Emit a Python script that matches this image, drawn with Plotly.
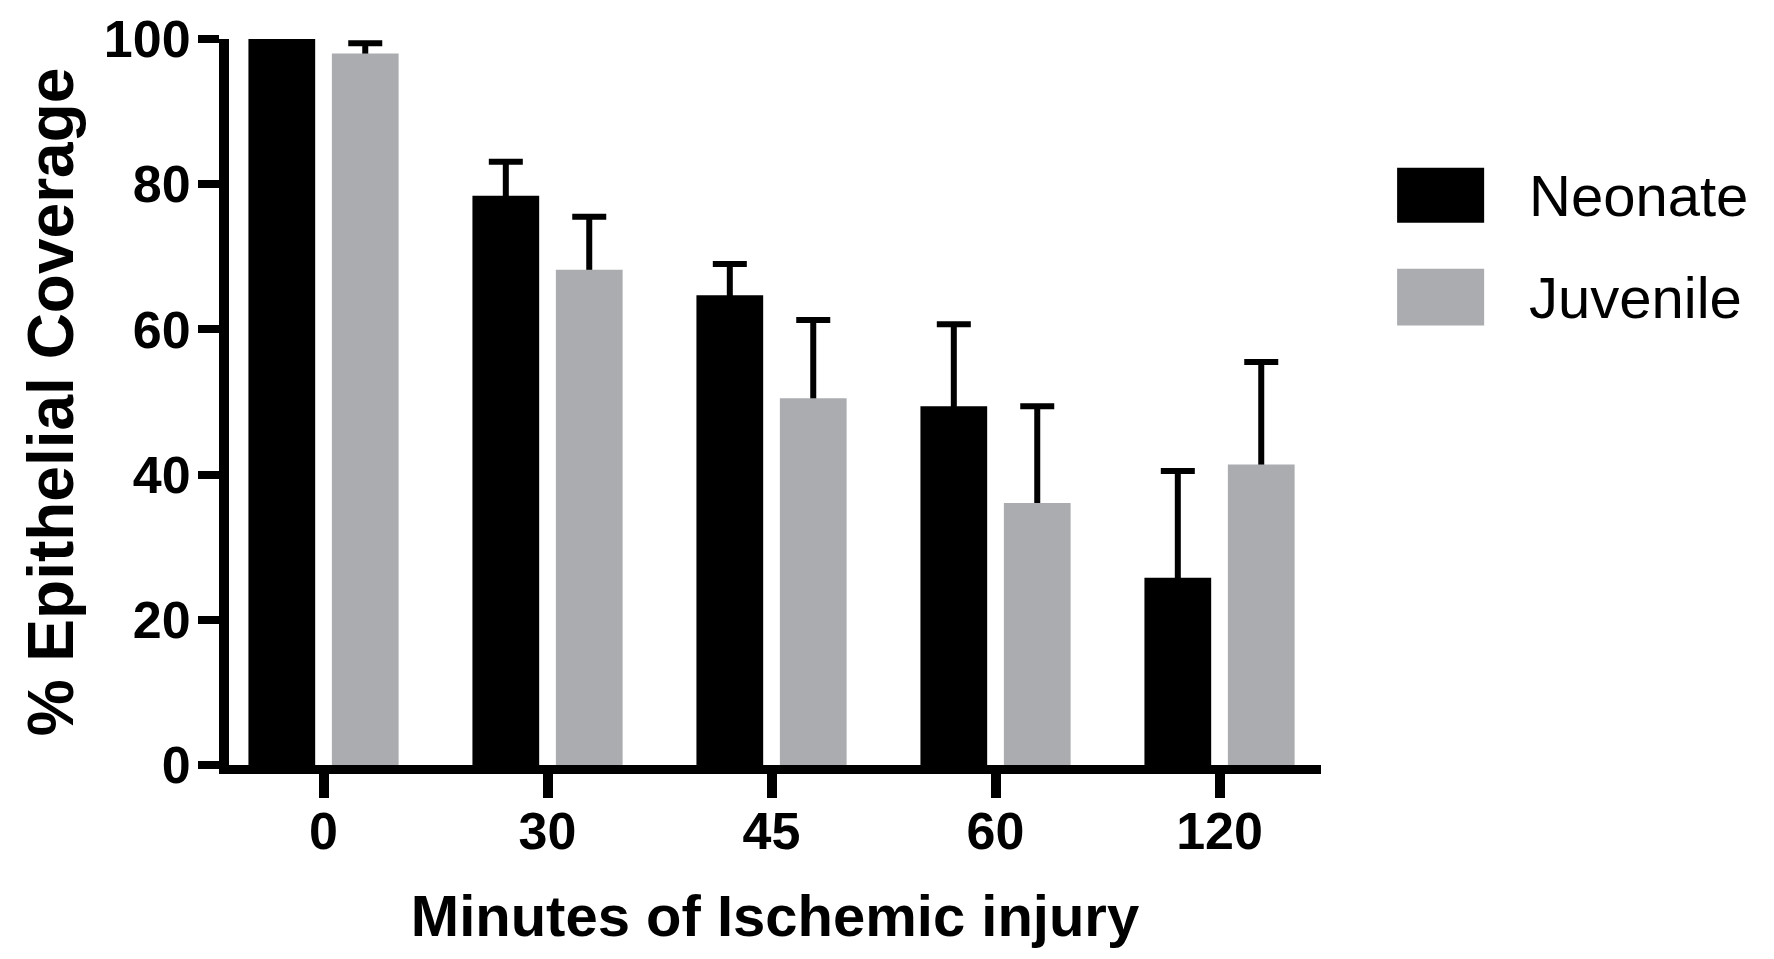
import plotly.graph_objects as go

categories = ["0", "30", "45", "60", "120"]
neonate = [100.0, 78.4, 64.7, 49.4, 25.8]
neonate_err = [0.0, 4.7, 4.3, 11.3, 14.7]
juvenile = [98.0, 68.2, 50.5, 36.1, 41.4]
juvenile_err = [1.4, 7.3, 10.8, 13.3, 14.1]
y_ticks = [0, 20, 40, 60, 80, 100]

BLACK = "#000000"
GRAY = "#abacb0"
FONT = "Liberation Sans, Arial, Helvetica, sans-serif"

fig = go.Figure()

# carrier traces for the one-sided (upper) error bars; the visible bars drawn later cover the stem inside the bar
for name, vals, errs, grp in [("Neonate", neonate, neonate_err, "N"), ("Juvenile", juvenile, juvenile_err, "J")]:
    fig.add_trace(go.Bar(
        x=categories, y=vals, offsetgroup=grp, showlegend=False, hoverinfo="skip",
        marker=dict(color="rgba(0,0,0,0)", line=dict(width=0)),
        error_y=dict(type="data", symmetric=False, array=errs, arrayminus=vals,
                     color=BLACK, thickness=6, width=17),
    ))

fig.add_trace(go.Bar(x=categories, y=neonate, name="Neonate", offsetgroup="N",
                     marker=dict(color=BLACK, line=dict(width=0))))
fig.add_trace(go.Bar(x=categories, y=juvenile, name="Juvenile", offsetgroup="J",
                     marker=dict(color=GRAY, line=dict(width=0))))

fig.update_layout(
    width=1774, height=959,
    margin=dict(l=229, r=453, t=39, b=194, autoexpand=False),
    paper_bgcolor="white", plot_bgcolor="white",
    barmode="group", bargap=0.255, bargroupgap=0.2,
    showlegend=False,
    font=dict(family=FONT, color=BLACK),
    xaxis=dict(
        type="category", range=[-0.422, 4.453], automargin=False,
        showline=True, linecolor=BLACK, linewidth=9,
        ticks="outside", ticklen=24, tickwidth=10, tickcolor=BLACK,
        ticklabelstandoff=-11,
        showgrid=False, zeroline=False,
        tickfont=dict(family=FONT, size=52, weight="bold", color=BLACK),
        title=dict(text="Minutes of Ischemic injury", standoff=39,
                   font=dict(family=FONT, size=58, weight="bold", color=BLACK)),
    ),
    yaxis=dict(
        range=[0, 100], tickvals=y_ticks, automargin=False,
        showline=True, linecolor=BLACK, linewidth=10,
        ticks="outside", ticklen=21, tickwidth=8, tickcolor=BLACK,
        ticklabelstandoff=-3,
        showgrid=False, zeroline=False,
        tickfont=dict(family=FONT, size=52, weight="bold", color=BLACK),
        title=dict(text="% Epithelial Coverage", standoff=13,
                   font=dict(family=FONT, size=64, weight="bold", color=BLACK)),
    ),
)

# legend drawn as swatches + labels
legend_items = [("Neonate", BLACK, 0.8226, 0.7469), ("Juvenile", GRAY, 0.6836, 0.6052)]
for label, color, y1, y0 in legend_items:
    fig.add_shape(type="rect", xref="paper", yref="paper", x0=1.0697, x1=1.1494, y0=y0, y1=y1,
                  fillcolor=color, line=dict(width=0))
    fig.add_annotation(xref="paper", yref="paper", x=1.1888, y=(y0 + y1) / 2,
                       text=label, showarrow=False, xanchor="left", yanchor="middle",
                       font=dict(family=FONT, size=58, color=BLACK))

fig.write_html("out.html", config={"displayModeBar": False},
               post_script="document.body.style.margin='0';")
